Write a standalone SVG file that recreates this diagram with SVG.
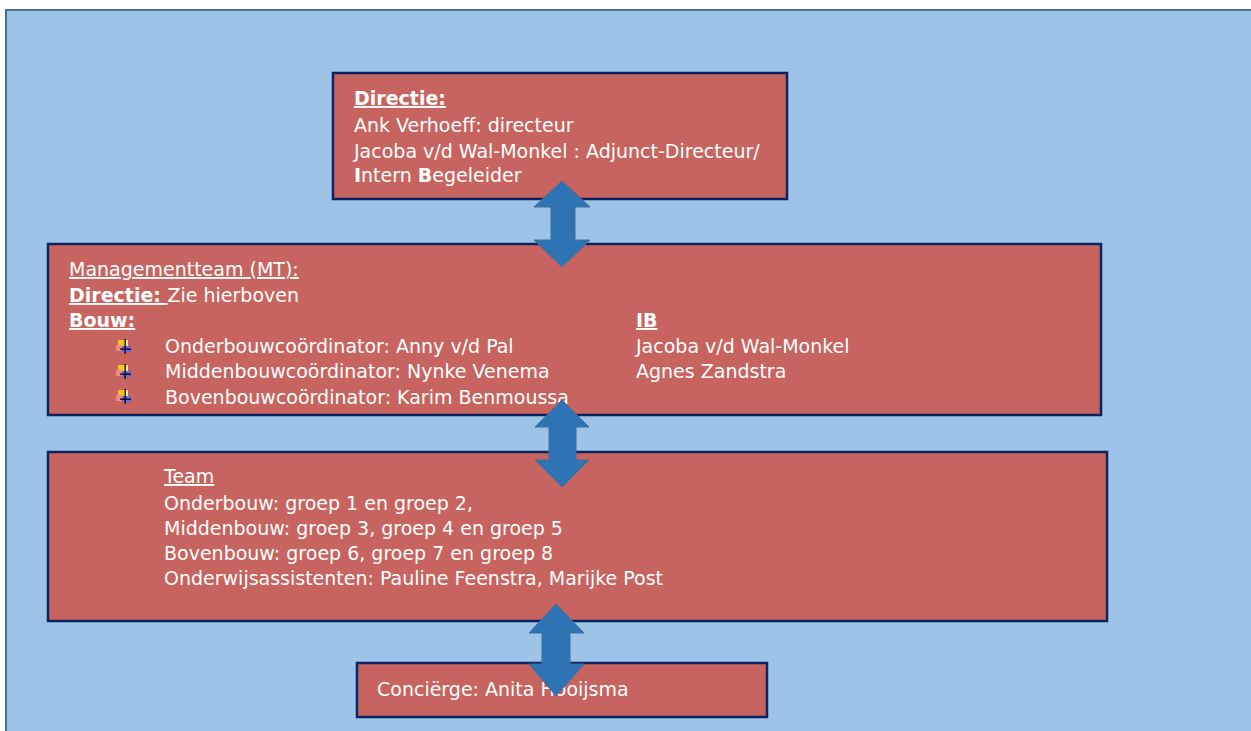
<svg xmlns="http://www.w3.org/2000/svg" width="1251" height="731" viewBox="0 0 1251 731">
<defs>
<style>
.box{fill:#C8645F;stroke:#0B2461;stroke-width:2.5}
.t{font-family:"DejaVu Sans",sans-serif;font-size:19px;fill:#FFFFFF}
.b{font-weight:bold}
.u{text-decoration:underline}
.arr{fill:#2E74B5;stroke:#3E6E9E;stroke-width:1}
</style>
<g id="bullet">
<rect x="1" y="1" width="6" height="6" fill="#F5C518"/>
<rect x="7" y="1" width="4" height="6" fill="#F7E48A"/>
<rect x="-1" y="6" width="6" height="6" fill="#F08A8A"/>
<rect x="5" y="7" width="9" height="6" fill="#6A6AE6"/>
<rect x="7.5" y="0" width="1.3" height="15" fill="#000"/>
<rect x="3" y="9.5" width="11" height="1.3" fill="#000"/>
</g>
</defs>
<rect x="6" y="10" width="1250" height="730" fill="#9DC3E6" stroke="#41719C" stroke-width="2"/>
<g id="directie">
<rect class="box" x="333" y="73" width="454" height="126"/>
<text class="t b u" x="354" y="105">Directie:</text>
<text class="t" x="354" y="132">Ank Verhoeff: directeur</text>
<text class="t" x="354" y="158">Jacoba v/d Wal-Monkel : Adjunct-Directeur/</text>
<text class="t" x="354" y="182"><tspan class="b">I</tspan>ntern <tspan class="b">B</tspan>egeleider</text>
</g>
<g id="mt">
<rect class="box" x="48" y="244" width="1053" height="171"/>
<text class="t u" x="69" y="276">Managementteam (MT):</text>
<text class="t" x="69" y="302"><tspan class="b u">Directie: </tspan>Zie hierboven</text>
<text class="t b u" x="69" y="327">Bouw:</text>
<use href="#bullet" x="117" y="339"/>
<use href="#bullet" x="117" y="364"/>
<use href="#bullet" x="117" y="389"/>
<text class="t" x="165" y="353">Onderbouwcoördinator: Anny v/d Pal</text>
<text class="t" x="165" y="378">Middenbouwcoördinator: Nynke Venema</text>
<text class="t" x="165" y="404">Bovenbouwcoördinator: Karim Benmoussa</text>
<text class="t b u" x="636" y="327">IB</text>
<text class="t" x="636" y="353">Jacoba v/d Wal-Monkel</text>
<text class="t" x="636" y="378">Agnes Zandstra</text>
</g>
<g id="team">
<rect class="box" x="48" y="452" width="1059" height="169"/>
<text class="t u" x="164" y="483">Team</text>
<text class="t" x="164" y="510">Onderbouw: groep 1 en groep 2,</text>
<text class="t" x="164" y="535">Middenbouw: groep 3, groep 4 en groep 5</text>
<text class="t" x="164" y="560">Bovenbouw: groep 6, groep 7 en groep 8</text>
<text class="t" x="164" y="585">Onderwijsassistenten: Pauline Feenstra, Marijke Post</text>
</g>
<g id="conciergebox">
<rect class="box" x="357" y="663" width="410" height="54"/>
<text class="t" x="377" y="696">Conciërge: Anita Hooijsma</text>
</g>
<g id="connectors">
<polygon class="arr" points="562,181 590,207 575,207 575,240 590,240 562,267 534,240 551,240 551,207 534,207"/>
<polygon class="arr" points="562,400 589,427 576,427 576,460 589,460 562,487 535,460 549,460 549,427 535,427"/>
<polygon class="arr" points="556,604 584,633 570,633 570,664 584,664 556,696 529,664 542,664 542,633 529,633"/>
</g>
</svg>
